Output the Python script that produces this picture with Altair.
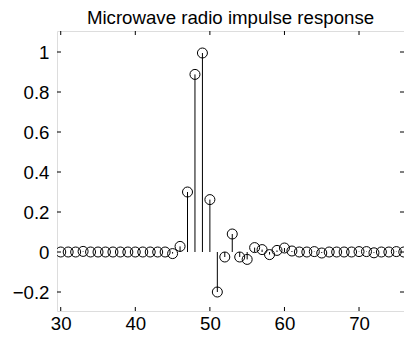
import altair as alt
import pandas as pd

# Sample index and impulse response values
n_vals = list(range(30, 78))
h_vals = [0, 0, 0, 0.003, 0, 0, 0, 0, 0, 0, 0, 0, 0, 0, 0,
          -0.008, 0.028, 0.30, 0.888, 0.995, 0.262, -0.2, -0.025, 0.09,
          -0.025, -0.037, 0.022, 0.012, -0.013, 0.008, 0.02, 0.005,
          0, 0, 0.002, -0.005, 0, 0, 0, 0, 0.002, 0.002, -0.004, 0, 0,
          0.002, 0, 0]
x_ticks = [30, 40, 50, 60, 70]
y_ticks = [-0.2, 0, 0.2, 0.4, 0.6, 0.8, 1]
title_text = "Microwave radio impulse response"

W, H = 347, 280
FONT = "Liberation Sans"
FS = 18.67

df = pd.DataFrame({"n": n_vals, "h": h_vals, "zero": [0] * len(n_vals)})
xt = pd.DataFrame({"t": x_ticks})
yt = pd.DataFrame({"t": y_ticks})

xs = alt.Scale(domain=[29.5, 76.03], nice=False, zero=False)
ys = alt.Scale(domain=[-0.295, 1.105], nice=False, zero=False)

x_axis = alt.Axis(values=x_ticks, ticks=False, domain=False, grid=False,
                  labelFont=FONT, labelFontSize=FS, labelColor="black",
                  labelPadding=3, format="~g", labelFlush=False)
y_axis = alt.Axis(values=y_ticks, ticks=False, domain=False, grid=False,
                  labelFont=FONT, labelFontSize=FS, labelColor="black",
                  labelPadding=8, format="~g", labelFlush=False)

stems = alt.Chart(df).mark_rule(color="black", strokeWidth=1, clip=True).encode(
    x=alt.X("n:Q", scale=xs, axis=x_axis, title=None),
    y=alt.Y("zero:Q", scale=ys, axis=y_axis, title=None),
    y2="h:Q",
)
circles = alt.Chart(df).mark_point(shape="circle", size=100, filled=False,
                                   color="black", strokeWidth=1, opacity=1,
                                   clip=True).encode(
    x=alt.X("n:Q", scale=xs),
    y=alt.Y("h:Q", scale=ys),
)
tick_bottom = alt.Chart(xt).mark_rule(color="black", strokeWidth=1).encode(
    x=alt.X("t:Q", scale=xs), y=alt.value(H), y2=alt.value(H - 4))
tick_top = alt.Chart(xt).mark_rule(color="black", strokeWidth=1).encode(
    x=alt.X("t:Q", scale=xs), y=alt.value(0), y2=alt.value(4))
tick_left = alt.Chart(yt).mark_rule(color="black", strokeWidth=1).encode(
    y=alt.Y("t:Q", scale=ys), x=alt.value(0), x2=alt.value(4))
tick_right = alt.Chart(yt).mark_rule(color="black", strokeWidth=1).encode(
    y=alt.Y("t:Q", scale=ys), x=alt.value(W), x2=alt.value(W - 4))

chart = alt.layer(stems, circles, tick_bottom, tick_top, tick_left, tick_right).properties(
    width=W, height=H,
    title=alt.TitleParams(title_text, font=FONT, fontSize=FS, fontWeight="normal",
                          color="black", anchor="middle", offset=3),
    autosize=alt.AutoSizeParams(type="none"),
    padding={"left": 49, "top": 23, "right": 0, "bottom": 22},
).configure_view(stroke="black", strokeWidth=1).configure(background="white")

chart.save("out.html", embed_options={"renderer": "svg", "actions": False})
